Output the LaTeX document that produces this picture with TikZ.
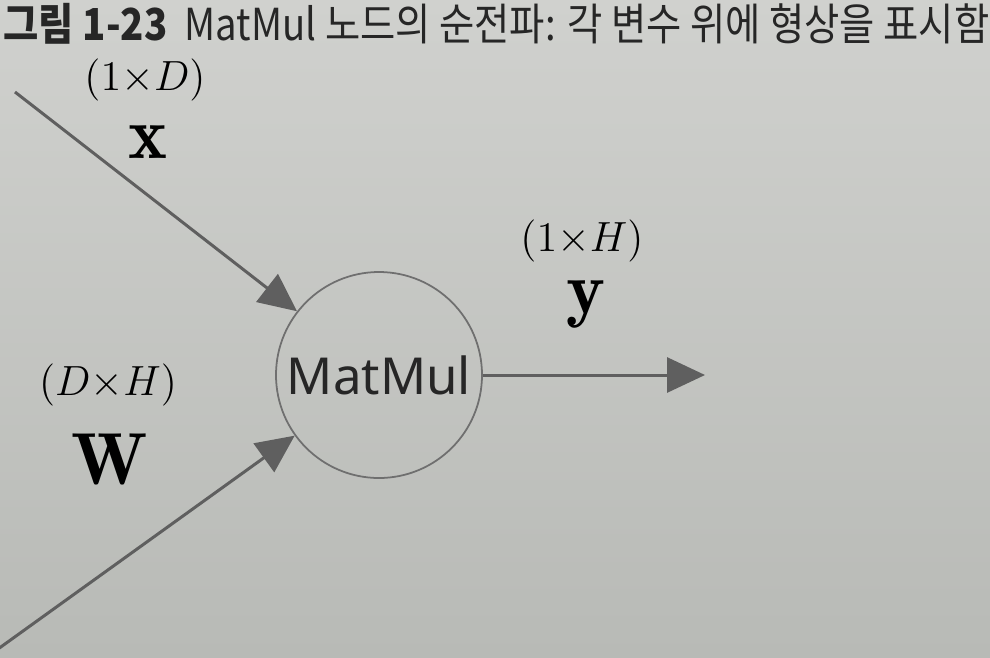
\documentclass[tikz,border=0pt]{standalone}
\usepackage{fontspec}
\usepackage{amsmath}
\setsansfont{Noto Sans}
\newfontfamily\krfont{Noto Sans CJK KR}
\usetikzlibrary{arrows.meta, positioning, calc}
\definecolor{paper}{RGB}{208,209,206}
\definecolor{paperdark}{RGB}{184,186,182}
\definecolor{ink}{RGB}{95,95,95}
\tikzset{
	flow/.style={draw=ink, line width=0.85pt, -{Triangle[length=3.8mm,width=3.5mm]}},
	dimlabel/.style={font=\fontsize{12}{14}\selectfont},
	varlabel/.style={font=\fontsize{21}{24}\selectfont}
}

\begin{document}
\begin{tikzpicture}
				  \shade[top color=paper, bottom color=paperdark] (0,0) rectangle (9.9,6.57);
				  \useasboundingbox (0,0) rectangle (9.9,6.57);
				  \node[anchor=north west, inner sep=0pt, text=black!85, yscale=1.15] (title) at (0.03,6.54)
				    {\krfont\fontsize{10.9}{12}\selectfont\textbf{그림 1-23}\ \ MatMul 노드의 순전파: 각 변수 위에 형상을 표시함};
				  \node[circle, draw=ink!90, line width=0.5pt, minimum size=2.06cm, inner sep=0pt,
				    font=\sffamily\fontsize{14.5}{16}\selectfont, text=black!85] (mm) at (3.79,2.82) {MatMul};
				  \coordinate (xin) at (0.15,5.65);
				  \coordinate (win) at (-0.02,0.08);
				  \coordinate (yout) at (7.05,2.82);
				  \draw[flow] (xin) -- (mm);
				  \draw[flow] (win) -- (mm);
				  \draw[flow] (mm) -- (yout);
				  \node[dimlabel] (xs) at (1.45,5.77) {$(1{\times}D)$};
				  \node[varlabel] (x) at (1.48,5.15) {$\mathbf{x}$};
				  \node[dimlabel] (ws) at (1.08,2.72) {$(D{\times}H)$};
				  \node[varlabel] (w) at (1.10,1.98) {$\mathbf{W}$};
				  \node[dimlabel] (ys) at (5.82,4.16) {$(1{\times}H)$};
				  \node[varlabel] (y) at (5.86,3.53) {$\mathbf{y}$};
				\end{tikzpicture}
\end{document}
